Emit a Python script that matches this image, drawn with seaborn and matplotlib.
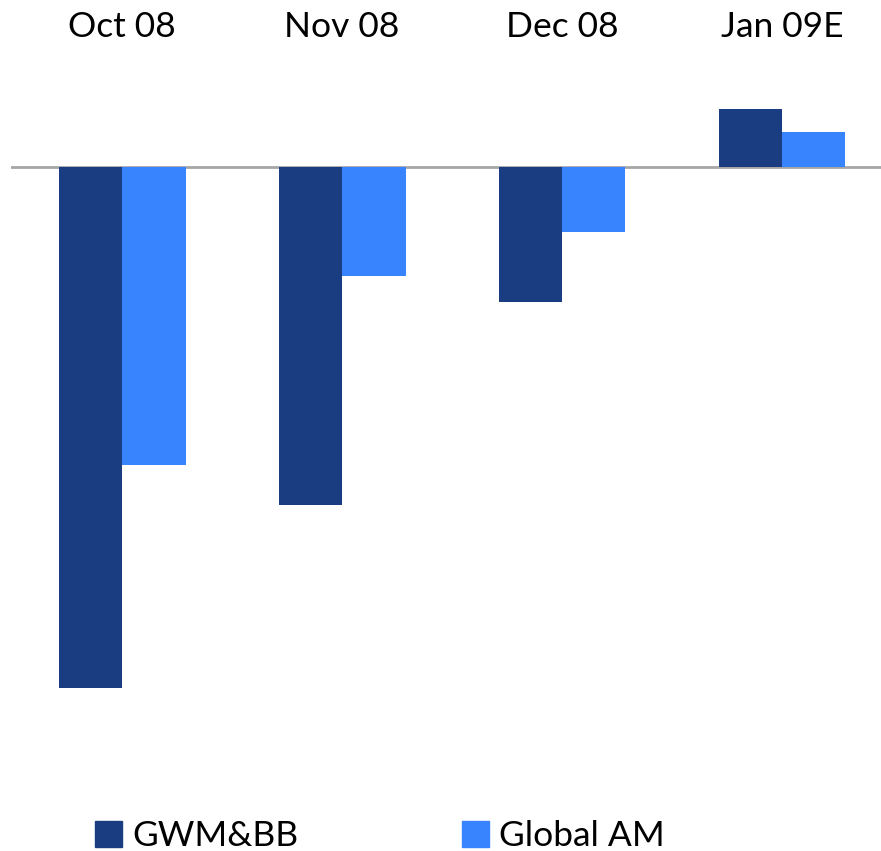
import pandas as pd
import matplotlib.pyplot as plt
import seaborn as sns

# monthly values (arbitrary units)
months = ['Oct 08', 'Nov 08', 'Dec 08', 'Jan 09E']
gwm_bb = [-52.1, -33.8, -13.5, 5.8]
global_am = [-29.8, -10.9, -6.5, 3.5]
series = ['GWM&BB', 'Global AM']
colors = ['#1a3d82', '#3884ff']

df = pd.DataFrame({
    'month': months * 2,
    'value': gwm_bb + global_am,
    'division': [series[0]] * len(months) + [series[1]] * len(months),
})

sns.set_style('white')
plt.rcParams['font.family'] = ['Lato', 'DejaVu Sans']

fig = plt.figure(figsize=(8.81, 8.51), dpi=100)
ax = fig.add_axes([11 / 881, 84 / 851, 870 / 881, 700 / 851])

sns.barplot(data=df, x='month', y='value', hue='division', palette=colors,
            width=0.577, saturation=1, edgecolor='none', ax=ax, legend=False)

ax.axhline(0, color='#a6a6a6', lw=2, zorder=0.5)
ax.set_xlim(-0.505, 3.45)
ax.set_ylim(-60, 10)

ax.xaxis.tick_top()
ax.tick_params(axis='x', length=0, pad=17.5, labelsize=25.5, labelcolor='black')
ax.set_yticks([])
ax.set_xlabel('')
ax.set_ylabel('')
sns.despine(ax=ax, left=True, bottom=True, top=True, right=True)

handles = [plt.Rectangle((0, 0), 1, 1, color=c) for c in colors]
fig.legend(handles, series, loc='center left', bbox_to_anchor=(95 / 881, 15 / 851),
           ncol=2, frameon=False, fontsize=25.5, labelcolor='black', borderpad=0,
           borderaxespad=0, handlelength=0.75, handleheight=0.75, handletextpad=0.3,
           columnspacing=4.62)

fig.savefig('out.png', dpi=100)
